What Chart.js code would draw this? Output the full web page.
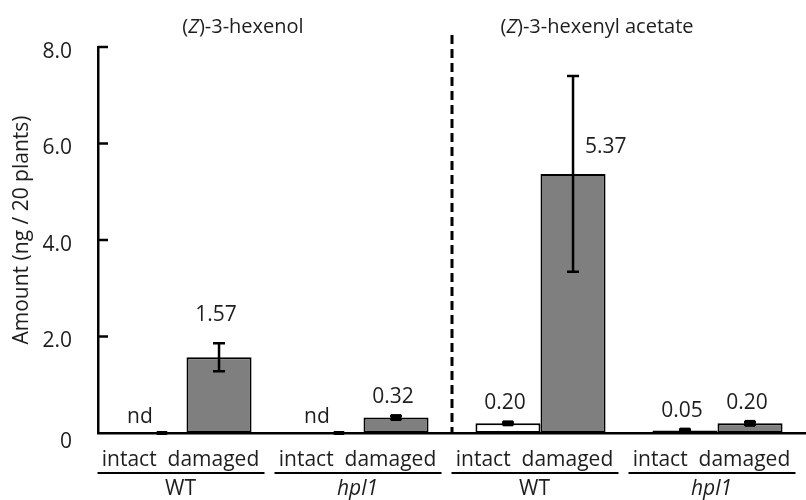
<!DOCTYPE html>
<html>
<head>
<meta charset="utf-8">
<script src="https://cdn.jsdelivr.net/npm/chart.js@4"></script>
<style>
  html, body { margin: 0; padding: 0; background: #fff; }
  #wrap { width: 806px; height: 500px; position: relative; }
</style>
</head>
<body>
<div id="wrap"><canvas id="myChart"></canvas></div>
<script>
const groupLabels = ["WT", "hpl1", "WT", "hpl1"];
const treatmentLabels = ["intact", "damaged"];
const compoundTitles = ["(Z)-3-hexenol", "(Z)-3-hexenyl acetate"];
const intactValues = [0, 0, 0.20, 0.05];
const intactErrors = [0, 0, 0.02, 0.02];
const damagedValues = [1.57, 0.32, 5.37, 0.20];
const damagedErrors = [0.29, 0.03, 2.03, 0.03];
const notDetected = [true, true, false, false];
const yTicks = [0, 2, 4, 6, 8];

const FONT = "'Open Sans', 'DejaVu Sans', sans-serif";
const INK = "#1e1e1e";

const figurePlugin = {
    id: "figure",
    afterDatasetsDraw(chart) {
        const ctx = chart.ctx;
        const x = chart.scales.x;
        const y = chart.scales.y;
        const area = chart.chartArea;
        ctx.save();

        // error bars
        const errs = [intactErrors, damagedErrors];
        const vals = [intactValues, damagedValues];
        ctx.strokeStyle = "#000";
        ctx.lineWidth = 2.5;
        [0, 1].forEach((d) => {
            const meta = chart.getDatasetMeta(d);
            meta.data.forEach((bar, i) => {
                const v = vals[d][i];
                const e = errs[d][i];
                const top = y.getPixelForValue(v + e);
                const bot = y.getPixelForValue(Math.max(0, v - e));
                const cx = bar.x + (d === 0 && notDetected[i] ? 8 : 0);
                ctx.beginPath();
                ctx.moveTo(cx, top);
                ctx.lineTo(cx, bot);
                ctx.moveTo(cx - 6, top);
                ctx.lineTo(cx + 6, top);
                ctx.moveTo(cx - 6, bot);
                ctx.lineTo(cx + 6, bot);
                ctx.stroke();
                if (e < 0.1) {
                    ctx.fillStyle = "#000";
                    ctx.fillRect(cx - 5, Math.min(top, bot) - 2, 10, Math.abs(bot - top) + 4);
                }
            });
        });

        // value labels
        ctx.fillStyle = INK;
        ctx.font = "21px " + FONT;
        ctx.textAlign = "center";
        ctx.textBaseline = "middle";
        [0, 1].forEach((d) => {
            const meta = chart.getDatasetMeta(d);
            meta.data.forEach((bar, i) => {
                const v = vals[d][i];
                const e = errs[d][i];
                if (d === 0 && notDetected[i]) {
                    ctx.fillText("nd", bar.x - 14, y.getPixelForValue(0) - 16);
                    return;
                }
                if (e > 1) {
                    ctx.textAlign = "left";
                    ctx.fillText(v.toFixed(2), bar.x + 12, y.getPixelForValue(v) - 27);
                    ctx.textAlign = "center";
                } else {
                    const gap = e < 0.1 ? 19 : 28;
                    ctx.fillText(v.toFixed(2), bar.x - 3, y.getPixelForValue(v + e) - gap);
                }
            });
        });

        // y ticks (inside) and labels
        ctx.lineWidth = 2.5;
        ctx.textAlign = "right";
        ctx.font = "21px " + FONT;
        yTicks.forEach((t) => {
            const py = y.getPixelForValue(t);
            if (t > 0) {
                ctx.beginPath();
                ctx.moveTo(area.left, py);
                ctx.lineTo(area.left + 10, py);
                ctx.stroke();
            }
            ctx.fillText(t === 0 ? "0" : t.toFixed(1), area.left - 26, py + (t === 0 ? 9 : 5));
        });

        // y title
        ctx.save();
        ctx.translate(22, 230);
        ctx.rotate(-Math.PI / 2);
        ctx.textAlign = "center";
        ctx.font = "21px " + FONT;
        ctx.fillText("Amount (ng / 20 plants)", 0, 0);
        ctx.restore();

        // dashed separator between compounds
        const sepX = (x.getPixelForValue(1) + x.getPixelForValue(2)) / 2;
        ctx.setLineDash([9, 5]);
        ctx.lineWidth = 3;
        ctx.beginPath();
        ctx.moveTo(sepX, 35);
        ctx.lineTo(sepX, y.getPixelForValue(0));
        ctx.stroke();
        ctx.setLineDash([]);

        // compound titles, Z in italics
        const titleCenters = [
            (x.getPixelForValue(0) + x.getPixelForValue(1)) / 2 - 32,
            (x.getPixelForValue(2) + x.getPixelForValue(3)) / 2 - 32,
        ];
        compoundTitles.forEach((t, k) => {
            const parts = [["(", false], ["Z", true], [t.slice(2), false]];
            const fonts = parts.map((p) => (p[1] ? "italic " : "") + "20px " + FONT);
            let w = 0;
            parts.forEach((p, j) => { ctx.font = fonts[j]; w += ctx.measureText(p[0]).width; });
            let px = titleCenters[k] - w / 2;
            ctx.textAlign = "left";
            parts.forEach((p, j) => {
                ctx.font = fonts[j];
                ctx.fillText(p[0], px, 27);
                px += ctx.measureText(p[0]).width;
            });
        });

        // x category labels with underline and genotype
        ctx.textAlign = "center";
        groupLabels.forEach((g, i) => {
            const gx = x.getPixelForValue(i);
            ctx.font = "21px " + FONT;
            ctx.fillText(treatmentLabels.join("  "), gx - 6, 460);
            ctx.lineWidth = 2;
            ctx.beginPath();
            ctx.moveTo(gx - 89, 473);
            ctx.lineTo(gx + 78, 473);
            ctx.stroke();
            ctx.font = (g === "hpl1" ? "italic " : "") + "21px " + FONT;
            ctx.fillText(g, gx - 6, 489);
        });

        ctx.restore();
    },
};

const ctx = document.getElementById("myChart").getContext("2d");
const myChart = new Chart(ctx, {
    type: "bar",
    data: {
        labels: groupLabels,
        datasets: [
            {
                label: treatmentLabels[0],
                data: intactValues,
                backgroundColor: "#ffffff",
                borderColor: "#000000",
                borderWidth: 2,
                borderSkipped: false,
            },
            {
                label: treatmentLabels[1],
                data: damagedValues,
                backgroundColor: "#7f7f7f",
                borderColor: "#000000",
                borderWidth: 2,
                borderSkipped: false,
            },
        ],
    },
    plugins: [figurePlugin],
    options: {
        responsive: true,
        maintainAspectRatio: false,
        animation: false,
        layout: {
            padding: { left: 98, top: 47, bottom: 67, right: 0 },
        },
        plugins: {
            legend: { display: false },
            tooltip: { enabled: false },
        },
        datasets: {
            bar: { categoryPercentage: 0.735, barPercentage: 1.0 },
        },
        scales: {
            x: {
                grid: { display: false, drawTicks: false },
                ticks: { display: false },
                border: { display: true, color: "#000", width: 2.5 },
            },
            y: {
                min: 0,
                max: 8,
                grid: { display: false, drawTicks: false },
                ticks: { display: false, stepSize: 2 },
                border: { display: true, color: "#000", width: 2.5 },
            },
        },
    },
});
</script>
</body>
</html>
